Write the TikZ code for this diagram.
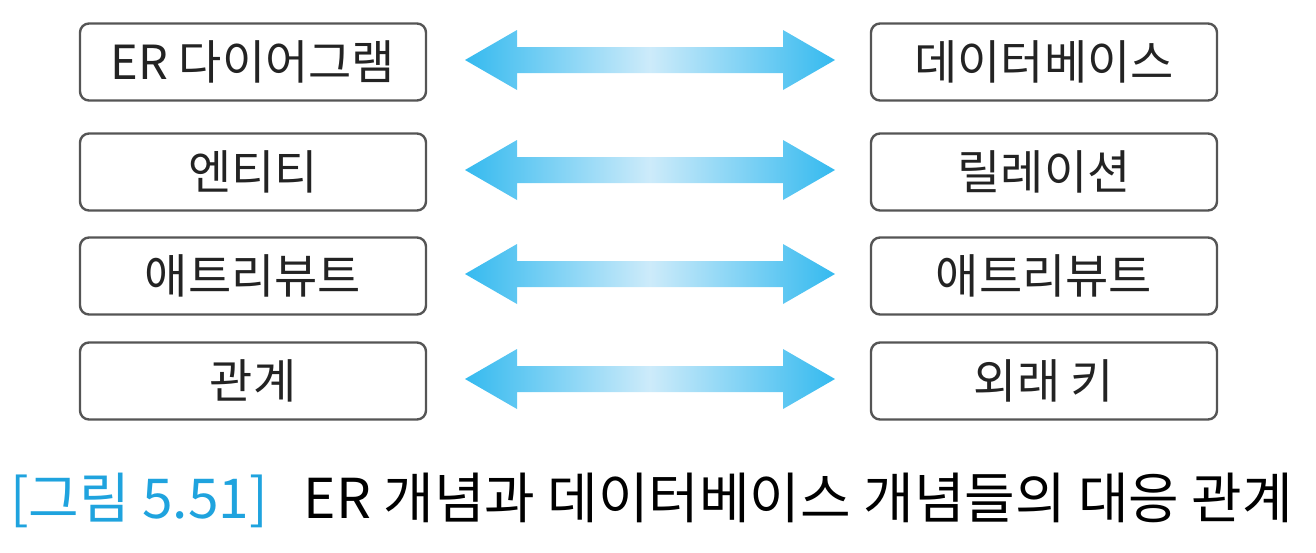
\documentclass[tikz,border=0pt]{standalone}
\usepackage{fontspec}
\usetikzlibrary{calc}
\setmainfont{Noto Sans CJK KR}
\definecolor{arrowcyan}{RGB}{10,172,236}
\definecolor{arrowlight}{RGB}{205,235,250}
\definecolor{boxline}{RGB}{85,85,85}
\definecolor{boxtext}{RGB}{35,35,35}
\definecolor{capblue}{RGB}{31,163,222}
\pgfdeclarehorizontalshading{arrowshade}{100bp}{color(0bp)=(arrowcyan); color(18bp)=(arrowcyan); color(50bp)=(arrowlight); color(82bp)=(arrowcyan); color(100bp)=(arrowcyan)}
\tikzset{
  conceptbox/.style={draw=boxline, line width=2.4pt, rounded corners=9pt, minimum width=346pt, minimum height=77pt, inner sep=0pt, text=boxtext, font=\fontsize{47}{52}\selectfont},
}
\begin{document}
\begin{tikzpicture}[x=1pt,y=-1pt]
\useasboundingbox (0,0) rectangle (1316,552);
\foreach \i/\yc/\lt/\rt in {1/62/ER 다이어그램/데이터베이스, 2/172/엔티티/릴레이션, 3/276/애트리뷰트/애트리뷰트, 4/381/관계/외래 키}{
  \node[conceptbox] (L\i) at (253,\yc) {\lt};
  \node[conceptbox] (R\i) at (1044,\yc) {\rt};
  \coordinate (al\i) at (465,\yc-2);
  \coordinate (ar\i) at (835,\yc-2);
  \path[shading=arrowshade]
    (al\i) -- ++(52,-30) -- ++(0,17) -- ($(ar\i)+(-52,-13)$) -- ++(0,-17) -- (ar\i)
    -- ++(-52,30) -- ++(0,-17) -- ($(al\i)+(52,13)$) -- ++(0,17) -- cycle;
}
\node[anchor=base west, inner sep=0pt, font=\fontsize{55}{60}\selectfont] (cap) at (10,518)
  {\textcolor{capblue}{[그림 5.51]}\hspace{36pt}ER 개념과 데이터베이스 개념들의 대응 관계};
\end{tikzpicture}
\end{document}
